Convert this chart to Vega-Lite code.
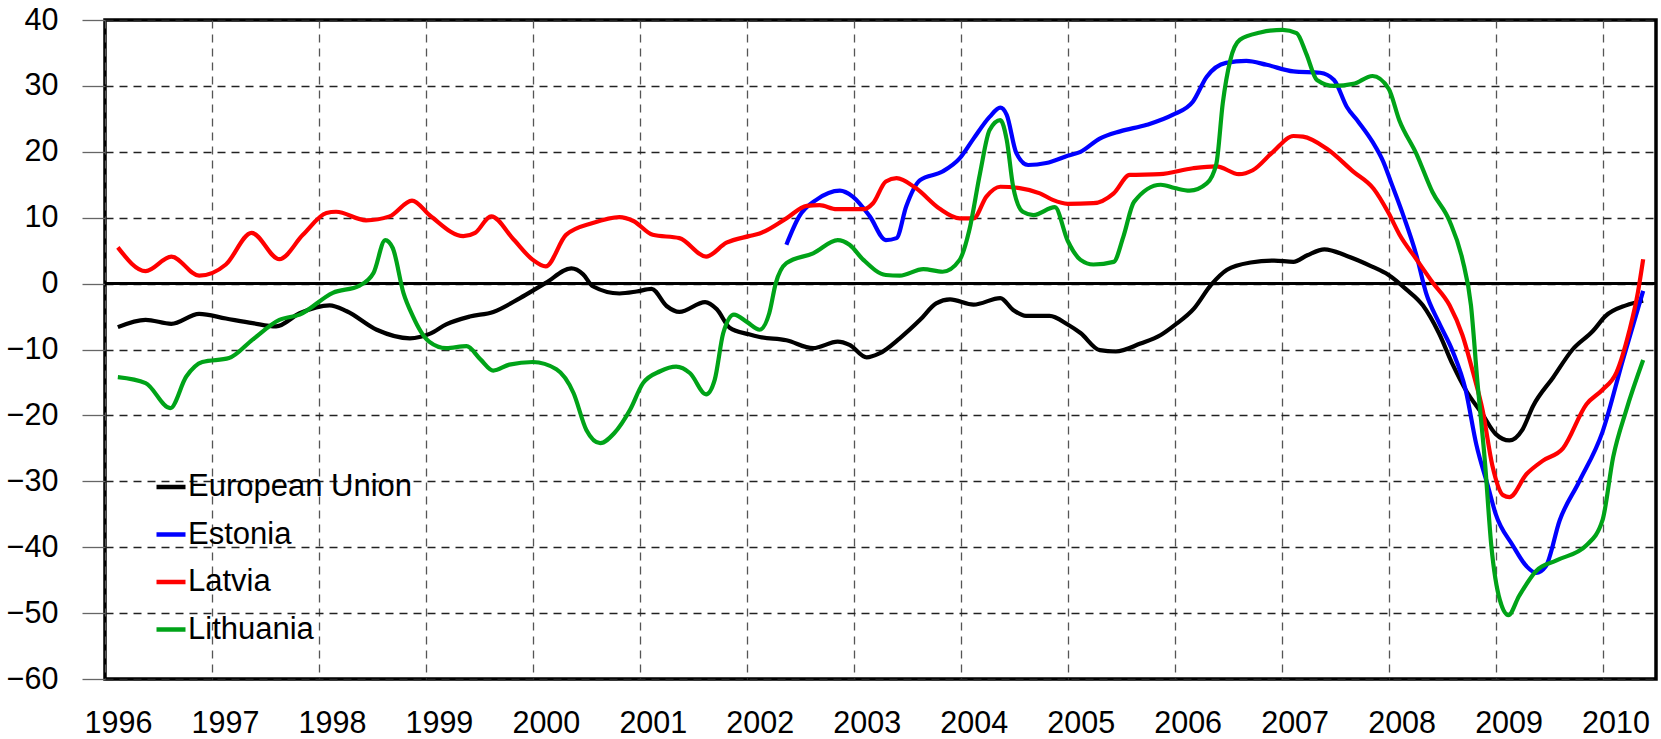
{
  "$schema": "https://vega.github.io/schema/vega-lite/v6.json",
  "width": 1551,
  "height": 659,
  "autosize": "none",
  "padding": {"left": 105, "top": 20, "right": 5, "bottom": 60},
  "background": "white",
  "config": {
    "font": "Liberation Sans",
    "view": {"stroke": "black", "strokeWidth": 3.5}
  },
  "data": {
    "values": [
      {"country":"European Union","year":1996.12,"value":-6.6},
      {"country":"European Union","year":1996.38,"value":-5.5},
      {"country":"European Union","year":1996.62,"value":-6.1},
      {"country":"European Union","year":1996.88,"value":-4.6},
      {"country":"European Union","year":1997.13,"value":-5.3},
      {"country":"European Union","year":1997.38,"value":-6.0},
      {"country":"European Union","year":1997.6,"value":-6.5},
      {"country":"European Union","year":1997.82,"value":-4.5},
      {"country":"European Union","year":1998.1,"value":-3.3},
      {"country":"European Union","year":1998.26,"value":-4.2},
      {"country":"European Union","year":1998.54,"value":-7.0},
      {"country":"European Union","year":1998.85,"value":-8.3},
      {"country":"European Union","year":1999.04,"value":-7.6},
      {"country":"European Union","year":1999.19,"value":-6.2},
      {"country":"European Union","year":1999.41,"value":-5.0},
      {"country":"European Union","year":1999.63,"value":-4.3},
      {"country":"European Union","year":1999.88,"value":-2.2},
      {"country":"European Union","year":2000.12,"value":0.1},
      {"country":"European Union","year":2000.36,"value":2.3},
      {"country":"European Union","year":2000.47,"value":1.4},
      {"country":"European Union","year":2000.56,"value":-0.4},
      {"country":"European Union","year":2000.81,"value":-1.5},
      {"country":"European Union","year":2000.97,"value":-1.2},
      {"country":"European Union","year":2001.11,"value":-0.8},
      {"country":"European Union","year":2001.25,"value":-3.4},
      {"country":"European Union","year":2001.37,"value":-4.3},
      {"country":"European Union","year":2001.61,"value":-2.8},
      {"country":"European Union","year":2001.72,"value":-3.9},
      {"country":"European Union","year":2001.84,"value":-6.7},
      {"country":"European Union","year":2002.02,"value":-7.7},
      {"country":"European Union","year":2002.12,"value":-8.1},
      {"country":"European Union","year":2002.37,"value":-8.6},
      {"country":"European Union","year":2002.62,"value":-9.8},
      {"country":"European Union","year":2002.85,"value":-8.8},
      {"country":"European Union","year":2002.96,"value":-9.3},
      {"country":"European Union","year":2003.12,"value":-11.2},
      {"country":"European Union","year":2003.24,"value":-10.6},
      {"country":"European Union","year":2003.43,"value":-8.3},
      {"country":"European Union","year":2003.62,"value":-5.5},
      {"country":"European Union","year":2003.77,"value":-3.0},
      {"country":"European Union","year":2003.9,"value":-2.4},
      {"country":"European Union","year":2004.12,"value":-3.2},
      {"country":"European Union","year":2004.37,"value":-2.2},
      {"country":"European Union","year":2004.49,"value":-4.0},
      {"country":"European Union","year":2004.61,"value":-4.9},
      {"country":"European Union","year":2004.83,"value":-4.9},
      {"country":"European Union","year":2005.0,"value":-6.2},
      {"country":"European Union","year":2005.12,"value":-7.5},
      {"country":"European Union","year":2005.3,"value":-10.1},
      {"country":"European Union","year":2005.45,"value":-10.3},
      {"country":"European Union","year":2005.68,"value":-9.1},
      {"country":"European Union","year":2005.87,"value":-7.8},
      {"country":"European Union","year":2006.0,"value":-6.3},
      {"country":"European Union","year":2006.18,"value":-3.8},
      {"country":"European Union","year":2006.34,"value":-0.2},
      {"country":"European Union","year":2006.49,"value":2.1},
      {"country":"European Union","year":2006.71,"value":3.2},
      {"country":"European Union","year":2006.93,"value":3.5},
      {"country":"European Union","year":2007.11,"value":3.3},
      {"country":"European Union","year":2007.24,"value":4.3},
      {"country":"European Union","year":2007.4,"value":5.2},
      {"country":"European Union","year":2007.61,"value":4.2},
      {"country":"European Union","year":2007.83,"value":2.7},
      {"country":"European Union","year":2008.0,"value":1.3},
      {"country":"European Union","year":2008.16,"value":-0.8},
      {"country":"European Union","year":2008.32,"value":-3.3},
      {"country":"European Union","year":2008.47,"value":-7.5},
      {"country":"European Union","year":2008.6,"value":-12.3},
      {"country":"European Union","year":2008.72,"value":-16.1},
      {"country":"European Union","year":2008.88,"value":-19.9},
      {"country":"European Union","year":2009.0,"value":-22.8},
      {"country":"European Union","year":2009.13,"value":-23.8},
      {"country":"European Union","year":2009.25,"value":-22.2},
      {"country":"European Union","year":2009.35,"value":-18.6},
      {"country":"European Union","year":2009.54,"value":-14.2},
      {"country":"European Union","year":2009.72,"value":-10.0},
      {"country":"European Union","year":2009.91,"value":-7.2},
      {"country":"European Union","year":2010.03,"value":-4.9},
      {"country":"European Union","year":2010.22,"value":-3.3},
      {"country":"European Union","year":2010.38,"value":-2.6},

      {"country":"Estonia","year":2002.37,"value":5.9},
      {"country":"Estonia","year":2002.49,"value":10.2},
      {"country":"Estonia","year":2002.65,"value":12.7},
      {"country":"Estonia","year":2002.87,"value":14.1},
      {"country":"Estonia","year":2002.99,"value":13.2},
      {"country":"Estonia","year":2003.15,"value":10.2},
      {"country":"Estonia","year":2003.3,"value":6.6},
      {"country":"Estonia","year":2003.4,"value":6.9},
      {"country":"Estonia","year":2003.49,"value":11.7},
      {"country":"Estonia","year":2003.62,"value":15.7},
      {"country":"Estonia","year":2003.83,"value":17.0},
      {"country":"Estonia","year":2003.99,"value":19.0},
      {"country":"Estonia","year":2004.12,"value":22.0},
      {"country":"Estonia","year":2004.27,"value":25.3},
      {"country":"Estonia","year":2004.37,"value":26.7},
      {"country":"Estonia","year":2004.43,"value":25.6},
      {"country":"Estonia","year":2004.52,"value":19.8},
      {"country":"Estonia","year":2004.63,"value":18.0},
      {"country":"Estonia","year":2004.8,"value":18.3},
      {"country":"Estonia","year":2005.0,"value":19.4},
      {"country":"Estonia","year":2005.12,"value":20.0},
      {"country":"Estonia","year":2005.3,"value":22.0},
      {"country":"Estonia","year":2005.49,"value":23.1},
      {"country":"Estonia","year":2005.74,"value":24.1},
      {"country":"Estonia","year":2005.98,"value":25.6},
      {"country":"Estonia","year":2006.17,"value":27.6},
      {"country":"Estonia","year":2006.3,"value":31.4},
      {"country":"Estonia","year":2006.48,"value":33.5},
      {"country":"Estonia","year":2006.67,"value":33.8},
      {"country":"Estonia","year":2006.86,"value":33.2},
      {"country":"Estonia","year":2007.11,"value":32.2},
      {"country":"Estonia","year":2007.36,"value":32.0},
      {"country":"Estonia","year":2007.49,"value":30.9},
      {"country":"Estonia","year":2007.61,"value":26.8},
      {"country":"Estonia","year":2007.72,"value":24.5},
      {"country":"Estonia","year":2007.85,"value":21.5},
      {"country":"Estonia","year":2007.95,"value":18.5},
      {"country":"Estonia","year":2008.02,"value":15.5},
      {"country":"Estonia","year":2008.13,"value":10.7},
      {"country":"Estonia","year":2008.26,"value":4.3},
      {"country":"Estonia","year":2008.35,"value":-1.4},
      {"country":"Estonia","year":2008.47,"value":-5.9},
      {"country":"Estonia","year":2008.6,"value":-10.3},
      {"country":"Estonia","year":2008.72,"value":-16.1},
      {"country":"Estonia","year":2008.82,"value":-24.4},
      {"country":"Estonia","year":2008.93,"value":-30.8},
      {"country":"Estonia","year":2009.0,"value":-34.9},
      {"country":"Estonia","year":2009.16,"value":-39.7},
      {"country":"Estonia","year":2009.29,"value":-42.9},
      {"country":"Estonia","year":2009.38,"value":-43.9},
      {"country":"Estonia","year":2009.47,"value":-42.9},
      {"country":"Estonia","year":2009.6,"value":-35.9},
      {"country":"Estonia","year":2009.78,"value":-30.1},
      {"country":"Estonia","year":2010.0,"value":-22.5},
      {"country":"Estonia","year":2010.19,"value":-11.6},
      {"country":"Estonia","year":2010.38,"value":-1.1},

      {"country":"Latvia","year":1996.12,"value":5.5},
      {"country":"Latvia","year":1996.38,"value":1.9},
      {"country":"Latvia","year":1996.62,"value":4.1},
      {"country":"Latvia","year":1996.88,"value":1.2},
      {"country":"Latvia","year":1997.13,"value":2.9},
      {"country":"Latvia","year":1997.37,"value":7.7},
      {"country":"Latvia","year":1997.63,"value":3.7},
      {"country":"Latvia","year":1997.85,"value":7.4},
      {"country":"Latvia","year":1998.07,"value":10.7},
      {"country":"Latvia","year":1998.16,"value":10.9},
      {"country":"Latvia","year":1998.44,"value":9.6},
      {"country":"Latvia","year":1998.66,"value":10.2},
      {"country":"Latvia","year":1998.87,"value":12.6},
      {"country":"Latvia","year":1999.04,"value":10.3},
      {"country":"Latvia","year":1999.35,"value":7.2},
      {"country":"Latvia","year":1999.46,"value":7.7},
      {"country":"Latvia","year":1999.61,"value":10.2},
      {"country":"Latvia","year":1999.82,"value":6.7},
      {"country":"Latvia","year":2000.0,"value":3.6},
      {"country":"Latvia","year":2000.12,"value":2.6},
      {"country":"Latvia","year":2000.31,"value":7.4},
      {"country":"Latvia","year":2000.56,"value":9.2},
      {"country":"Latvia","year":2000.81,"value":10.1},
      {"country":"Latvia","year":2000.94,"value":9.5},
      {"country":"Latvia","year":2001.12,"value":7.4},
      {"country":"Latvia","year":2001.37,"value":6.9},
      {"country":"Latvia","year":2001.62,"value":4.1},
      {"country":"Latvia","year":2001.81,"value":6.2},
      {"country":"Latvia","year":2002.02,"value":7.2},
      {"country":"Latvia","year":2002.12,"value":7.6},
      {"country":"Latvia","year":2002.37,"value":9.9},
      {"country":"Latvia","year":2002.56,"value":11.8},
      {"country":"Latvia","year":2002.68,"value":11.9},
      {"country":"Latvia","year":2002.84,"value":11.3},
      {"country":"Latvia","year":2003.09,"value":11.3},
      {"country":"Latvia","year":2003.18,"value":12.2},
      {"country":"Latvia","year":2003.3,"value":15.5},
      {"country":"Latvia","year":2003.4,"value":16.0},
      {"country":"Latvia","year":2003.58,"value":14.5},
      {"country":"Latvia","year":2003.8,"value":11.4},
      {"country":"Latvia","year":2003.99,"value":9.9},
      {"country":"Latvia","year":2004.12,"value":9.9},
      {"country":"Latvia","year":2004.24,"value":13.2},
      {"country":"Latvia","year":2004.37,"value":14.7},
      {"country":"Latvia","year":2004.55,"value":14.5},
      {"country":"Latvia","year":2004.74,"value":13.7},
      {"country":"Latvia","year":2004.86,"value":12.7},
      {"country":"Latvia","year":2005.0,"value":12.1},
      {"country":"Latvia","year":2005.24,"value":12.2},
      {"country":"Latvia","year":2005.43,"value":13.7},
      {"country":"Latvia","year":2005.58,"value":16.5},
      {"country":"Latvia","year":2005.86,"value":16.6},
      {"country":"Latvia","year":2006.17,"value":17.5},
      {"country":"Latvia","year":2006.39,"value":17.8},
      {"country":"Latvia","year":2006.6,"value":16.6},
      {"country":"Latvia","year":2006.73,"value":17.2},
      {"country":"Latvia","year":2006.92,"value":20.0},
      {"country":"Latvia","year":2007.11,"value":22.4},
      {"country":"Latvia","year":2007.2,"value":22.3},
      {"country":"Latvia","year":2007.42,"value":20.5},
      {"country":"Latvia","year":2007.67,"value":17.0},
      {"country":"Latvia","year":2007.86,"value":14.4},
      {"country":"Latvia","year":2008.0,"value":10.7},
      {"country":"Latvia","year":2008.1,"value":7.5},
      {"country":"Latvia","year":2008.26,"value":3.7},
      {"country":"Latvia","year":2008.41,"value":0.2},
      {"country":"Latvia","year":2008.57,"value":-3.3},
      {"country":"Latvia","year":2008.69,"value":-7.8},
      {"country":"Latvia","year":2008.79,"value":-13.5},
      {"country":"Latvia","year":2008.88,"value":-19.3},
      {"country":"Latvia","year":2008.97,"value":-27.6},
      {"country":"Latvia","year":2009.07,"value":-32.1},
      {"country":"Latvia","year":2009.13,"value":-32.4},
      {"country":"Latvia","year":2009.29,"value":-28.9},
      {"country":"Latvia","year":2009.44,"value":-26.9},
      {"country":"Latvia","year":2009.63,"value":-25.0},
      {"country":"Latvia","year":2009.85,"value":-18.3},
      {"country":"Latvia","year":2010.0,"value":-16.1},
      {"country":"Latvia","year":2010.13,"value":-13.5},
      {"country":"Latvia","year":2010.25,"value":-7.2},
      {"country":"Latvia","year":2010.33,"value":-1.4},
      {"country":"Latvia","year":2010.38,"value":3.7},

      {"country":"Lithuania","year":1996.12,"value":-14.2},
      {"country":"Lithuania","year":1996.38,"value":-15.1},
      {"country":"Lithuania","year":1996.61,"value":-18.9},
      {"country":"Lithuania","year":1996.76,"value":-14.1},
      {"country":"Lithuania","year":1996.91,"value":-11.9},
      {"country":"Lithuania","year":1997.16,"value":-11.3},
      {"country":"Lithuania","year":1997.38,"value":-8.5},
      {"country":"Lithuania","year":1997.63,"value":-5.5},
      {"country":"Lithuania","year":1997.82,"value":-4.7},
      {"country":"Lithuania","year":1998.13,"value":-1.4},
      {"country":"Lithuania","year":1998.38,"value":-0.3},
      {"country":"Lithuania","year":1998.51,"value":1.6},
      {"country":"Lithuania","year":1998.62,"value":6.6},
      {"country":"Lithuania","year":1998.69,"value":5.4},
      {"country":"Lithuania","year":1998.79,"value":-1.4},
      {"country":"Lithuania","year":1998.88,"value":-5.0},
      {"country":"Lithuania","year":1998.95,"value":-7.2},
      {"country":"Lithuania","year":1999.03,"value":-8.8},
      {"country":"Lithuania","year":1999.19,"value":-9.8},
      {"country":"Lithuania","year":1999.38,"value":-9.5},
      {"country":"Lithuania","year":1999.51,"value":-11.5},
      {"country":"Lithuania","year":1999.63,"value":-13.2},
      {"country":"Lithuania","year":1999.78,"value":-12.3},
      {"country":"Lithuania","year":2000.0,"value":-11.9},
      {"country":"Lithuania","year":2000.22,"value":-13.0},
      {"country":"Lithuania","year":2000.38,"value":-16.6},
      {"country":"Lithuania","year":2000.5,"value":-22.2},
      {"country":"Lithuania","year":2000.63,"value":-24.2},
      {"country":"Lithuania","year":2000.76,"value":-22.7},
      {"country":"Lithuania","year":2000.91,"value":-19.1},
      {"country":"Lithuania","year":2001.03,"value":-15.1},
      {"country":"Lithuania","year":2001.19,"value":-13.3},
      {"country":"Lithuania","year":2001.34,"value":-12.6},
      {"country":"Lithuania","year":2001.47,"value":-13.6},
      {"country":"Lithuania","year":2001.62,"value":-16.8},
      {"country":"Lithuania","year":2001.7,"value":-14.6},
      {"country":"Lithuania","year":2001.78,"value":-7.5},
      {"country":"Lithuania","year":2001.88,"value":-4.7},
      {"country":"Lithuania","year":2002.0,"value":-5.8},
      {"country":"Lithuania","year":2002.12,"value":-7.0},
      {"country":"Lithuania","year":2002.21,"value":-4.5},
      {"country":"Lithuania","year":2002.27,"value":0.0},
      {"country":"Lithuania","year":2002.37,"value":3.1},
      {"country":"Lithuania","year":2002.62,"value":4.6},
      {"country":"Lithuania","year":2002.85,"value":6.6},
      {"country":"Lithuania","year":2002.96,"value":5.9},
      {"country":"Lithuania","year":2003.09,"value":3.6},
      {"country":"Lithuania","year":2003.3,"value":1.3},
      {"country":"Lithuania","year":2003.43,"value":1.2},
      {"country":"Lithuania","year":2003.65,"value":2.2},
      {"country":"Lithuania","year":2003.83,"value":1.8},
      {"country":"Lithuania","year":2003.99,"value":3.6},
      {"country":"Lithuania","year":2004.08,"value":8.1},
      {"country":"Lithuania","year":2004.18,"value":16.7},
      {"country":"Lithuania","year":2004.27,"value":23.3},
      {"country":"Lithuania","year":2004.37,"value":24.8},
      {"country":"Lithuania","year":2004.43,"value":21.8},
      {"country":"Lithuania","year":2004.49,"value":14.7},
      {"country":"Lithuania","year":2004.58,"value":10.9},
      {"country":"Lithuania","year":2004.68,"value":10.4},
      {"country":"Lithuania","year":2004.88,"value":11.6},
      {"country":"Lithuania","year":2005.0,"value":6.5},
      {"country":"Lithuania","year":2005.12,"value":3.6},
      {"country":"Lithuania","year":2005.24,"value":2.9},
      {"country":"Lithuania","year":2005.43,"value":3.3},
      {"country":"Lithuania","year":2005.52,"value":7.1},
      {"country":"Lithuania","year":2005.62,"value":12.4},
      {"country":"Lithuania","year":2005.87,"value":15.0},
      {"country":"Lithuania","year":2006.0,"value":14.5},
      {"country":"Lithuania","year":2006.14,"value":14.1},
      {"country":"Lithuania","year":2006.3,"value":15.2},
      {"country":"Lithuania","year":2006.39,"value":18.2},
      {"country":"Lithuania","year":2006.45,"value":27.4},
      {"country":"Lithuania","year":2006.52,"value":33.9},
      {"country":"Lithuania","year":2006.61,"value":37.0},
      {"country":"Lithuania","year":2006.8,"value":38.1},
      {"country":"Lithuania","year":2007.01,"value":38.5},
      {"country":"Lithuania","year":2007.14,"value":38.0},
      {"country":"Lithuania","year":2007.23,"value":34.9},
      {"country":"Lithuania","year":2007.33,"value":30.9},
      {"country":"Lithuania","year":2007.49,"value":30.0},
      {"country":"Lithuania","year":2007.67,"value":30.3},
      {"country":"Lithuania","year":2007.85,"value":31.5},
      {"country":"Lithuania","year":2008.0,"value":29.6},
      {"country":"Lithuania","year":2008.1,"value":24.8},
      {"country":"Lithuania","year":2008.26,"value":19.7},
      {"country":"Lithuania","year":2008.41,"value":13.9},
      {"country":"Lithuania","year":2008.57,"value":9.5},
      {"country":"Lithuania","year":2008.69,"value":3.7},
      {"country":"Lithuania","year":2008.77,"value":-3.3},
      {"country":"Lithuania","year":2008.83,"value":-14.8},
      {"country":"Lithuania","year":2008.9,"value":-26.9},
      {"country":"Lithuania","year":2008.96,"value":-39.7},
      {"country":"Lithuania","year":2009.04,"value":-48.0},
      {"country":"Lithuania","year":2009.12,"value":-50.3},
      {"country":"Lithuania","year":2009.22,"value":-47.4},
      {"country":"Lithuania","year":2009.38,"value":-43.6},
      {"country":"Lithuania","year":2009.57,"value":-42.0},
      {"country":"Lithuania","year":2009.85,"value":-39.7},
      {"country":"Lithuania","year":2010.0,"value":-35.9},
      {"country":"Lithuania","year":2010.1,"value":-26.3},
      {"country":"Lithuania","year":2010.22,"value":-19.3},
      {"country":"Lithuania","year":2010.38,"value":-11.6}
    ]
  },
  "layer": [
    {
      "mark": {"type": "rule", "color": "black", "strokeWidth": 2.7},
      "encoding": {
        "y": {"datum": 0, "type": "quantitative", "scale": {"domain": [-60, 40], "nice": false}}
      }
    },
    {
      "mark": {"type": "line", "strokeWidth": 4.2, "interpolate": "monotone"},
      "encoding": {
        "x": {
          "field": "year", "type": "quantitative",
          "scale": {"domain": [1996, 2010.5], "nice": false, "zero": false},
          "axis": {
            "values": [1996,1997,1998,1999,2000,2001,2002,2003,2004,2005,2006,2007,2008,2009,2010],
            "format": "d", "title": null, "domain": false, "ticks": false,
            "labelPadding": 29, "labelOffset": 13, "labelFlush": false, "labelOverlap": false, "labelBound": false,
            "labelFont": "Liberation Sans", "labelFontSize": 30.5, "labelColor": "black",
            "grid": true, "gridDash": [8, 6], "gridColor": "#555", "gridWidth": 1.3
          }
        },
        "y": {
          "field": "value", "type": "quantitative",
          "scale": {"domain": [-60, 40], "nice": false},
          "axis": {
            "values": [-60,-50,-40,-30,-20,-10,0,10,20,30,40],
            "title": null, "domain": false,
            "ticks": true, "tickSize": 23, "tickColor": "#666", "tickWidth": 1.3,
            "labelPadding": 24, "labelFont": "Liberation Sans", "labelFontSize": 30.5, "labelColor": "black",
            "grid": true, "gridDash": [8, 6], "gridColor": "#222", "gridWidth": 1.3
          }
        },
        "color": {
          "field": "country", "type": "nominal",
          "scale": {
            "domain": ["European Union", "Estonia", "Latvia", "Lithuania"],
            "range": ["#000000", "#0000FF", "#FF0000", "#00A318"]
          },
          "legend": {
            "orient": "none", "legendX": 49, "legendY": 450, "title": null,
            "padding": 0, "symbolType": "stroke", "symbolSize": 841, "symbolStrokeWidth": 4.5,
            "labelFont": "Liberation Sans", "labelFontSize": 31, "labelColor": "black",
            "labelOffset": 0, "rowPadding": 15.5, "labelLimit": 400
          }
        }
      }
    }
  ]
}
